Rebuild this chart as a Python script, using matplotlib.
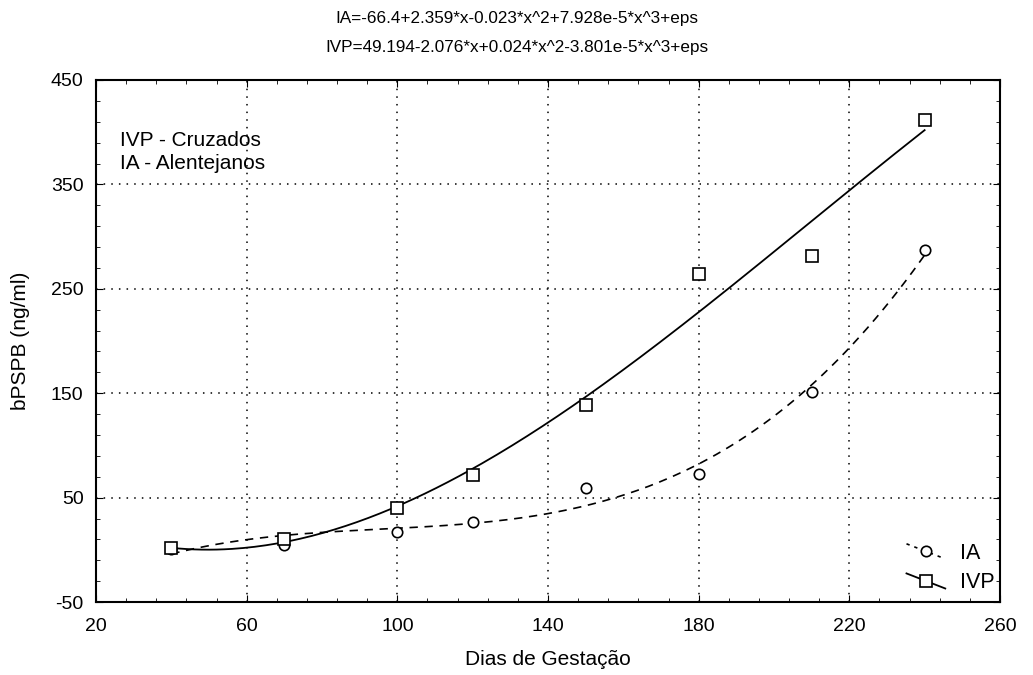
import numpy as np
import matplotlib
matplotlib.use("Agg")
import matplotlib.pyplot as plt
from matplotlib.lines import Line2D
from matplotlib.legend_handler import HandlerLine2D

plt.rcParams["font.family"] = ["Liberation Sans", "DejaVu Sans"]
plt.rcParams["axes.unicode_minus"] = False

# dados
dias = [40, 70, 100, 120, 150, 180, 210, 240]
ia = [1, 5, 17.6, 27, 59.5, 73, 151, 287]
ivp = [2, 10, 40.5, 72, 138.6, 264, 281, 412]

eq_ia = "IA=-66.4+2.359*x-0.023*x^2+7.928e-5*x^3+eps"
eq_ivp = "IVP=49.194-2.076*x+0.024*x^2-3.801e-5*x^3+eps"


class HandlerInclinado(HandlerLine2D):
    # linha da legenda inclinada, como no original
    def create_artists(self, legend, orig_handle, xdescent, ydescent,
                       width, height, fontsize, trans):
        arts = super().create_artists(legend, orig_handle, xdescent, ydescent,
                                      width, height, fontsize, trans)
        for a in arts:
            if isinstance(a, Line2D):
                y = np.asarray(a.get_ydata(), dtype=float)
                if len(y) > 1:
                    meio = y.mean()
                    a.set_ydata(np.linspace(meio + height * 0.5, meio - height * 0.5, len(y)))
        return arts


fig = plt.figure(figsize=(10.33, 6.75), dpi=100)
ax = fig.add_axes([0.093, 0.108, 0.875, 0.7735])

# ajuste cúbico
xs = np.linspace(min(dias), max(dias), 200)
fit_ia = np.polyval(np.polyfit(dias, ia, 3), xs)
fit_ivp = np.polyval(np.polyfit(dias, ivp, 3), xs)

ax.plot(xs, fit_ia, color="black", lw=1.2, ls=(0, (5, 4)))
ax.plot(xs, fit_ivp, color="black", lw=1.3, ls="-")
ax.plot(dias, ia, "o", ms=7.5, mfc="white", mec="black", mew=1.2)
ax.plot(dias, ivp, "s", ms=8.5, mfc="white", mec="black", mew=1.2)

# legenda
h1 = Line2D([], [], color="black", lw=1.2, ls=(0, (2, 3)), marker="o",
            ms=7.5, mfc="white", mec="black", mew=1.2, label="IA")
h2 = Line2D([], [], color="black", lw=1.3, marker="s", ms=8.5,
            mfc="white", mec="black", mew=1.2, label="IVP")
ax.legend(handles=[h1, h2], loc="lower right", bbox_to_anchor=(1.004, 0.0),
          frameon=False, fontsize=15.5, handlelength=1.8, handletextpad=0.7,
          borderaxespad=0, borderpad=0.4, labelspacing=0.4,
          handler_map={Line2D: HandlerInclinado()})

ax.text(0.026, 0.885, "IVP - Cruzados", transform=ax.transAxes, fontsize=15, va="center")
ax.text(0.026, 0.841, "IA - Alentejanos", transform=ax.transAxes, fontsize=15, va="center")

ax.set_xlim(20, 260)
ax.set_ylim(-50, 450)
ax.set_xticks(np.arange(20, 261, 40))
ax.set_xticks(np.arange(20, 261, 8), minor=True)
ax.set_yticks(np.arange(-50, 451, 100))
ax.set_yticks(np.arange(-50, 451, 20), minor=True)
ax.tick_params(which="both", direction="in", top=True, right=True, labelsize=14)
ax.tick_params(axis="x", which="major", pad=11.5)
ax.tick_params(axis="y", which="major", pad=9)
ax.tick_params(which="major", length=5)
ax.tick_params(which="minor", length=3)
ax.grid(True, which="major", color="black", ls=(0, (1, 4)), lw=1.1)
for s in ax.spines.values():
    s.set_linewidth(1.5)

ax.set_xlabel("Dias de Gestação", fontsize=15, labelpad=11)
ax.set_ylabel("bPSPB (ng/ml)", fontsize=15, labelpad=15)

fig.text(0.5, 0.973, eq_ia, ha="center", va="center", fontsize=12.3)
fig.text(0.5, 0.930, eq_ivp, ha="center", va="center", fontsize=12.3)

plt.savefig("out.png", dpi=100)
